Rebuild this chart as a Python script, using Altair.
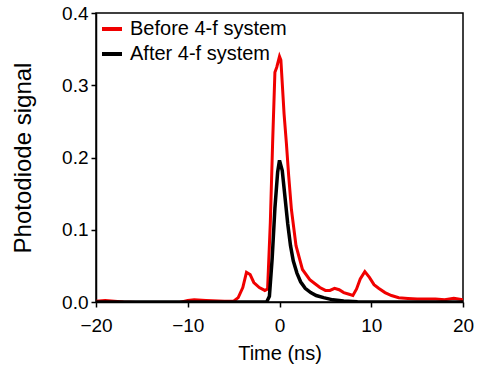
import altair as alt
import pandas as pd

before_t = [-20, -19, -18, -17, -15, -13, -11, -10, -9.3, -8, -6, -5, -4.5, -4, -3.6, -3.2, -2.8, -2.2, -1.6, -1.3,
            -1.0, -0.75, -0.5, -0.3, 0, 0.15, 0.5, 0.75, 1.0, 1.3, 1.8, 2.5, 3.3, 3.8, 4.4, 5.0, 5.5, 6.0, 6.5, 7.0,
            7.5, 8.0, 8.4, 8.8, 9.3, 9.8, 10.3, 10.8, 11.5, 12.2, 13.0, 14, 15, 16, 17, 18, 19, 20]
before_v = [0.001, 0.002, 0.001, 0.0, -0.001, -0.001, -0.001, 0.002, 0.003, 0.002, 0.001, 0.001, 0.006, 0.02, 0.041,
            0.038, 0.027, 0.02, 0.016, 0.018, 0.11, 0.22, 0.318, 0.325, 0.34, 0.335, 0.26, 0.22, 0.175, 0.128, 0.078,
            0.045, 0.031, 0.026, 0.02, 0.016, 0.016, 0.019, 0.017, 0.013, 0.011, 0.009, 0.018, 0.032, 0.042, 0.034,
            0.024, 0.019, 0.013, 0.009, 0.006, 0.005, 0.004, 0.004, 0.004, 0.003, 0.005, 0.003]

after_t = [-20, -5, -1.4, -1.1, -0.8, -0.5, -0.2, 0, 0.3, 0.6, 0.9, 1.2, 1.5, 1.9, 2.3, 2.8, 3.4, 4.0, 4.8, 5.8,
           7.0, 8.5, 10, 20]
after_v = [0, 0, 0, 0.008, 0.06, 0.13, 0.18, 0.196, 0.182, 0.145, 0.108, 0.078, 0.057, 0.04, 0.028, 0.019, 0.013,
           0.009, 0.006, 0.003, 0.0015, 0.0005, 0, 0]

series_names = ["Before 4-f system", "After 4-f system"]
series_colors = ["#f00000", "#000000"]

df_b = pd.DataFrame({"t": before_t, "v": before_v, "series": series_names[0]})
df_a = pd.DataFrame({"t": after_t, "v": after_v, "series": series_names[1]})

FONT = "Liberation Sans"

x = alt.X("t:Q", scale=alt.Scale(domain=[-20, 20], nice=False),
          axis=alt.Axis(title="Time (ns)", values=[-20, -10, 0, 10, 20], grid=False,
                        labelPadding=9, titlePadding=8, titleFontSize=20))
y = alt.Y("v:Q", scale=alt.Scale(domain=[0, 0.4], nice=False),
          axis=alt.Axis(title="Photodiode signal", values=[0, 0.1, 0.2, 0.3, 0.4], format=".1f", grid=False,
                        titleFontSize=24, titlePadding=26))
color = alt.Color("series:N", scale=alt.Scale(domain=series_names, range=series_colors),
                  legend=alt.Legend(title=None, orient="none", legendX=4, legendY=4))

red = alt.Chart(df_b).mark_line(strokeWidth=3, clip=True).encode(x=x, y=y, color=color)
black = alt.Chart(df_a).mark_line(strokeWidth=3.5, clip=True).encode(x=x, y=y, color=color)

chart = alt.layer(red, black).properties(
    width=367, height=289,
    autosize=alt.AutoSizeParams(type="none"),
    padding={"left": 96, "top": 13, "right": 16, "bottom": 65},
).configure_view(
    stroke="black", strokeWidth=1.5
).configure_axis(
    domainColor="black", domainWidth=1.5, tickColor="black", tickWidth=1.5, tickSize=5,
    labelFont=FONT, labelFontSize=19, labelColor="black", labelPadding=3, labelFlush=False,
    titleFont=FONT, titleFontSize=19, titleColor="black", titleFontWeight="normal",
).configure_legend(
    symbolType="stroke", symbolSize=400, symbolStrokeWidth=4,
    labelFontSize=20, labelFont=FONT, labelColor="black",
    labelOffset=6, rowPadding=3, padding=0, labelLimit=300,
)

chart.save("out.html", embed_options={"renderer": "svg", "actions": False})
